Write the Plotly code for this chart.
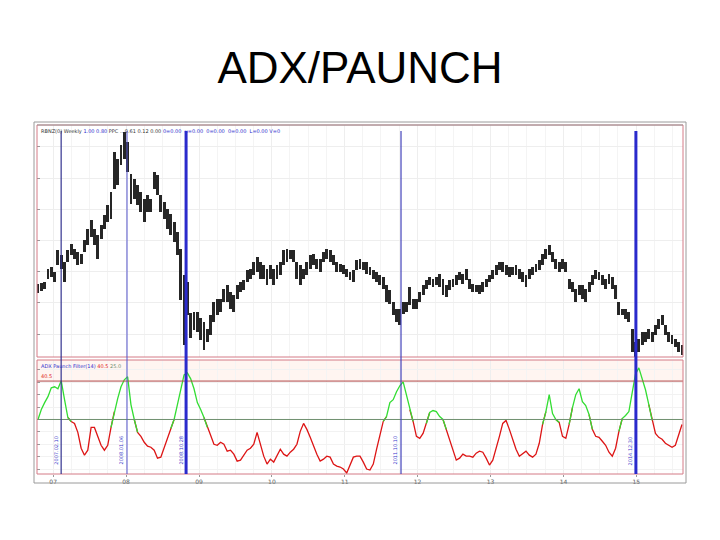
import pandas as pd
import plotly.graph_objects as go
from plotly.subplots import make_subplots

# ---- price bars (weekly-ish samples, high / low) ----
price_high = [116,117,118,131,133,128,150,145,138,150,156,151,148,146,160,171,180,171,165,175,
              185,195,208,248,241,255,268,258,226,221,215,208,201,205,201,228,225,205,198,191,
              186,178,168,151,125,118,87,88,88,82,78,71,85,98,101,101,111,115,108,105,
              115,118,120,130,131,138,143,138,135,131,135,131,135,138,150,151,150,150,138,135,
              131,138,145,146,141,141,148,151,150,145,138,136,135,131,128,130,140,141,138,138,
              133,130,128,125,123,115,110,98,91,91,98,98,113,101,101,108,115,120,123,121,
              123,126,121,115,120,121,125,128,126,131,121,116,115,115,118,121,125,130,135,138,
              138,135,133,133,135,131,128,125,131,133,136,140,146,151,155,148,141,138,141,138,
              121,118,111,115,115,111,118,125,130,128,125,121,126,123,115,98,91,91,88,71,
              58,61,68,68,71,68,75,81,85,75,68,65,61,58,55]
price_low = [107,109,111,121,123,118,135,131,118,138,145,141,135,136,148,155,163,155,141,161,
             171,178,181,211,215,235,241,228,196,201,195,188,178,188,188,211,205,188,181,171,
             165,158,145,100,55,85,62,70,68,60,50,58,65,78,85,88,98,98,91,88,
             101,108,110,118,121,125,128,121,121,115,121,115,121,125,135,138,141,138,121,115,
             121,125,131,135,131,128,138,141,138,135,128,128,126,123,120,118,130,131,130,126,
             125,121,118,115,111,98,96,85,78,75,86,88,95,91,91,98,105,111,115,113,
             115,113,105,103,110,113,115,120,116,120,111,108,108,106,108,113,118,121,125,130,
             128,125,123,125,125,121,118,113,121,125,128,130,135,141,145,138,131,128,131,128,
             111,108,98,105,101,98,108,115,121,120,115,111,116,111,101,85,85,81,78,48,
             43,48,55,58,61,58,65,71,75,65,58,56,53,48,45]

# ---- ADX / Paunch indicator ----
adx = [25.0,29.0,31.8,34.2,37.8,38.2,37.4,40.6,33.0,25.8,24.2,23.4,19.8,13.4,10.6,12.6,21.8,21.8,18.2,14.6,
       12.6,14.6,21.8,28.2,33.4,38.2,41.0,42.2,31.0,25.0,19.8,18.2,15.8,14.2,13.8,12.6,9.4,9.8,13.4,17.8,
       21.4,25.0,31.0,37.0,43.0,43.8,41.4,37.4,31.8,29.0,25.8,21.8,18.6,15.0,14.6,15.8,15.0,12.2,12.6,11.0,
       8.2,8.6,10.6,12.6,13.4,15.0,19.8,15.4,10.2,7.0,9.0,7.8,10.2,13.0,11.0,10.2,11.8,13.0,15.0,20.2,
       23.4,21.0,17.8,14.2,11.0,8.2,9.0,10.2,9.8,7.0,6.2,5.8,5.0,3.4,7.0,9.8,10.2,10.2,7.8,5.0,
       4.6,7.0,13.0,18.2,24.2,26.2,31.8,33.0,36.2,38.6,40.2,35.0,29.0,24.2,18.2,17.4,19.4,23.4,27.8,28.6,
       28.2,26.2,25.0,21.0,16.6,12.6,8.6,9.4,11.0,10.2,10.2,9.8,11.4,12.2,11.8,9.4,6.6,8.6,13.0,18.2,
       23.4,24.6,21.0,17.0,13.0,10.2,11.4,12.2,10.6,9.8,11.0,15.4,23.0,28.2,35.0,27.4,25.0,23.8,18.2,17.4,
       23.0,29.8,35.0,37.4,32.2,30.6,27.0,21.0,18.2,17.8,16.2,14.6,11.8,10.2,13.4,20.2,25.4,26.6,28.2,35.8,
       43.4,45.8,41.4,37.0,31.0,24.6,19.4,17.8,17.0,15.4,14.6,13.8,14.6,18.6,23.0]

upper_level = 40.5
lower_level = 25.0

signal_dates = ["2007-02-10", "2008-01-06", "2008-10-28", "2011-10-10", "2014-12-30"]
signal_widths = [1.2, 1.0, 3.0, 1.2, 3.0]
signal_colors = ["#33338f", "#5555cc", "#2a2acc", "#4444bb", "#2a2acc"]

year_ticks = ["2007-01-01", "2008-01-01", "2009-01-01", "2010-01-01", "2011-01-01",
              "2012-01-01", "2013-01-01", "2014-01-01", "2015-01-01"]
year_labels = ["07", "08", "09", "10", "11", "12", "13", "14", "15"]

dates = pd.date_range("2006-10-17", "2015-08-18", periods=len(price_high))

# colour split for the indicator
n = len(adx)
green_y, red_y = [], []
for i in range(n):
    above = [adx[j] >= lower_level for j in (i - 1, i, i + 1) if 0 <= j < n]
    green_y.append(adx[i] if any(above) else None)
    red_y.append(adx[i] if not all(above) else None)

fig = make_subplots(rows=2, cols=1, shared_xaxes=True)

fig.add_trace(go.Bar(x=dates, base=price_low,
                     y=[h - l for h, l in zip(price_high, price_low)],
                     width=1.25e9, marker=dict(color="#262626", line=dict(width=0)),
                     hoverinfo="skip"), row=1, col=1)

fig.add_trace(go.Scatter(x=dates, y=red_y, mode="lines",
                         line=dict(color="#dd1515", width=1.3), connectgaps=False), row=2, col=1)
fig.add_trace(go.Scatter(x=dates, y=green_y, mode="lines",
                         line=dict(color="#33dd33", width=1.3), connectgaps=False), row=2, col=1)

top_dom = [117 / 349, 1.0]
bot_dom = [0.0, 114 / 349]

fig.update_layout(
    width=704, height=524,
    margin=dict(l=29, r=29, t=117, b=58),
    paper_bgcolor="white", plot_bgcolor="white",
    showlegend=False, bargap=0,
    title=dict(text="ADX/PAUNCH", x=0.5, xanchor="center", y=1 - 60 / 524, yanchor="middle",
               font=dict(family="Liberation Sans, Arial", size=44, color="black")),
    xaxis=dict(range=["2006-10-12", "2015-08-23"], showticklabels=False, showgrid=True,
               gridcolor="#eeeeee", tickvals=year_ticks,
               minor=dict(dtick="M3", showgrid=True, gridcolor="#f4f4f4"),
               showline=False, zeroline=False),
    xaxis2=dict(range=["2006-10-12", "2015-08-23"], tickvals=year_ticks, ticktext=year_labels,
                tickfont=dict(family="DejaVu Sans", size=6, color="#555"),
                showgrid=True, gridcolor="#eeeeee", ticks="outside", ticklen=2, tickcolor="#999",
                minor=dict(dtick="M3", showgrid=True, gridcolor="#f4f4f4"),
                showline=False, zeroline=False),
    yaxis=dict(domain=top_dom, range=[43, 275], tick0=66, dtick=31.2, showticklabels=False,
               ticks="inside", ticklen=3, tickcolor="#999", gridcolor="#eeeeee",
               zeroline=False, showline=False),
    yaxis2=dict(domain=bot_dom, range=[3, 49], showticklabels=False, dtick=5,
                ticks="inside", ticklen=3, tickcolor="#999", gridcolor="#f2f2f2",
                zeroline=False, showline=False),
)

shapes = []
# pale band above upper level
shapes.append(dict(type="rect", xref="x2 domain", yref="y2", x0=0, x1=1, y0=upper_level, y1=49,
                   fillcolor="#fff5f1", line=dict(width=0), layer="below"))
# level lines
shapes.append(dict(type="line", xref="x2 domain", yref="y2", x0=0, x1=1, y0=upper_level, y1=upper_level,
                   line=dict(color="#b04848", width=1)))
shapes.append(dict(type="line", xref="x2 domain", yref="y2", x0=0, x1=1, y0=lower_level, y1=lower_level,
                   line=dict(color="#6f8f6f", width=1)))
# panel borders
for dom in (top_dom, bot_dom):
    shapes.append(dict(type="rect", xref="paper", yref="paper", x0=0, x1=1, y0=dom[0], y1=dom[1],
                       line=dict(color="#d47a86", width=1)))
# outer frame
shapes.append(dict(type="rect", xref="paper", yref="paper", x0=-3 / 646, x1=649 / 646,
                   y0=-9 / 349, y1=352 / 349, line=dict(color="#9a9a9a", width=1)))
shapes.append(dict(type="line", xref="paper", yref="paper", x0=0, x1=1, y0=1, y1=1,
                   line=dict(color="#9a9a9a", width=1)))
# signal lines
for d, w, c in zip(signal_dates, signal_widths, signal_colors):
    shapes.append(dict(type="line", xref="x", yref="paper", x0=d, x1=d, y0=0, y1=343 / 349,
                       line=dict(color=c, width=w)))
fig.update_layout(shapes=shapes)

ann = []
for d in signal_dates:
    ann.append(dict(x=d, xref="x", y=0.02, yref="paper", text=d.replace("-", "."),
                    textangle=-90, showarrow=False, xanchor="right", yanchor="bottom", xshift=-1,
                    font=dict(family="DejaVu Sans", size=5, color="#3a3acc")))
ann.append(dict(x=0.003, xref="paper", y=0.996, yref="paper", xanchor="left", yanchor="top",
                showarrow=False,
                text="RBNZ(0) Weekly <span style='color:#2a2acc'>1.00 0.80</span> PPC ...0.61 0.12 0.00 "
                     "<span style='color:#2a2acc'>0=0.00  u=0.00  0=0.00  0=0.00  L=0.00 V=0</span>",
                font=dict(family="DejaVu Sans", size=5, color="#333")))
ann.append(dict(x=0.003, xref="paper", y=bot_dom[1] - 0.004, yref="paper", xanchor="left", yanchor="top",
                showarrow=False,
                text="<span style='color:#2a2acc'>ADX Paunch Filter(14)</span> "
                     "<span style='color:#dd1515'>40.5</span> <span style='color:#6f8f6f'>25.0</span>",
                font=dict(family="DejaVu Sans", size=5, color="#333")))
ann.append(dict(x=0.003, xref="paper", y=upper_level, yref="y2", xanchor="left", yanchor="bottom",
                showarrow=False, text="40.5", font=dict(family="DejaVu Sans", size=5, color="#dd1515")))
fig.update_layout(annotations=ann)

fig.write_html("out.html")
